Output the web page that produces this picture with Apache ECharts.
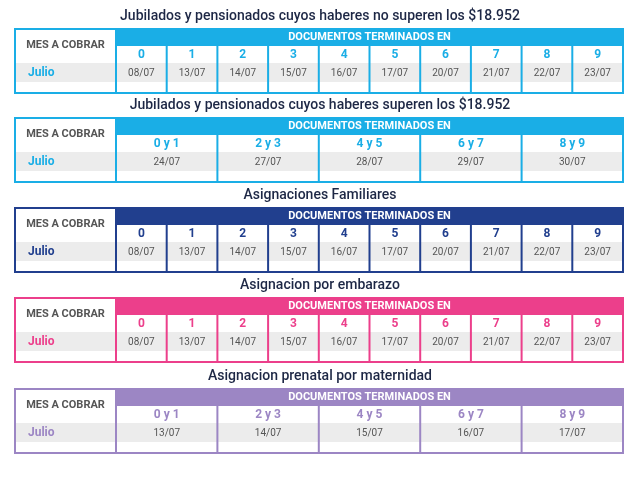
<!DOCTYPE html>
<html>
<head>
<meta charset="utf-8">
<script src="https://cdn.jsdelivr.net/npm/echarts@6/dist/echarts.min.js"></script>
<style>html,body{margin:0;padding:0;background:#fff}#chart{width:640px;height:480px}</style>
</head>
<body>
<div id="chart"></div>
<script>
// datos de cada tabla
var titles = [
	'Jubilados y pensionados cuyos haberes no superen los $18.952',
	'Jubilados y pensionados cuyos haberes superen los $18.952',
	'Asignaciones Familiares',
	'Asignacion por embarazo',
	'Asignacion prenatal por maternidad'
];
var colors = ['#1aaee6', '#1aaee6', '#213f8e', '#ec3f8b', '#9c86c4'];
var tops = [29, 118, 208, 298, 389];
var digits10 = ['0', '1', '2', '3', '4', '5', '6', '7', '8', '9'];
var digits5 = ['0 y 1', '2 y 3', '4 y 5', '6 y 7', '8 y 9'];
var dates1 = ['08/07', '13/07', '14/07', '15/07', '16/07', '17/07', '20/07', '21/07', '22/07', '23/07'];
var dates2 = ['24/07', '27/07', '28/07', '29/07', '30/07'];
var dates3 = ['08/07', '13/07', '14/07', '15/07', '16/07', '17/07', '20/07', '21/07', '22/07', '23/07'];
var dates4 = ['08/07', '13/07', '14/07', '15/07', '16/07', '17/07', '20/07', '21/07', '22/07', '23/07'];
var dates5 = ['13/07', '14/07', '15/07', '16/07', '17/07'];
var heads = [digits10, digits5, digits10, digits10, digits5];
var dates = [dates1, dates2, dates3, dates4, dates5];

var chart = echarts.init(document.getElementById('chart'));
var X0 = 15, X1 = 623, XL = 116, H = 64;
var els = [];
for (var t = 0; t < 5; t++) {
	var y0 = tops[t], c = colors[t];
	els.push({type: 'text', style: {x: 320, y: y0 - 13, text: titles[t], fill: '#1d2745', font: '500 14px Roboto', textAlign: 'center', textVerticalAlign: 'middle'}});
	els.push({type: 'rect', shape: {x: X0 + 1, y: y0 + 34, width: X1 - X0 - 2, height: 19}, style: {fill: '#ececec'}});
	els.push({type: 'rect', shape: {x: XL, y: y0, width: X1 - XL, height: 17}, style: {fill: c}});
	els.push({type: 'text', style: {x: (XL + X1) / 2, y: y0 + 8.5, text: 'DOCUMENTOS TERMINADOS EN', fill: '#fff', font: 'bold 11px Roboto', textAlign: 'center', textVerticalAlign: 'middle'}});
	els.push({type: 'text', style: {x: (X0 + XL) / 2, y: y0 + 16, text: 'MES A COBRAR', fill: '#555', font: 'bold 11px Roboto', textAlign: 'center', textVerticalAlign: 'middle'}});
	els.push({type: 'text', style: {x: 28, y: y0 + 44, text: 'Julio', fill: c, font: 'bold 12px Roboto', textVerticalAlign: 'middle'}});
	var n = heads[t].length, w = (X1 - XL) / n;
	for (var i = 0; i < n; i++) {
		var cx = XL + w * (i + 0.5);
		els.push({type: 'text', style: {x: cx, y: y0 + 26, text: heads[t][i], fill: c, font: 'bold 12px Roboto', textAlign: 'center', textVerticalAlign: 'middle'}});
		els.push({type: 'text', style: {x: cx, y: y0 + 44, text: dates[t][i], fill: '#555', font: '10px Roboto', textAlign: 'center', textVerticalAlign: 'middle'}});
		if (i > 0) els.push({type: 'line', shape: {x1: XL + w * i, y1: y0 + 17, x2: XL + w * i, y2: y0 + H}, style: {stroke: c, lineWidth: 2}});
	}
	els.push({type: 'line', shape: {x1: XL, y1: y0, x2: XL, y2: y0 + H}, style: {stroke: c, lineWidth: 2}});
	els.push({type: 'rect', shape: {x: X0, y: y0, width: X1 - X0, height: H}, style: {fill: 'none', stroke: c, lineWidth: 2}});
}
chart.setOption({graphic: {elements: els}});
</script>
</body>
</html>
